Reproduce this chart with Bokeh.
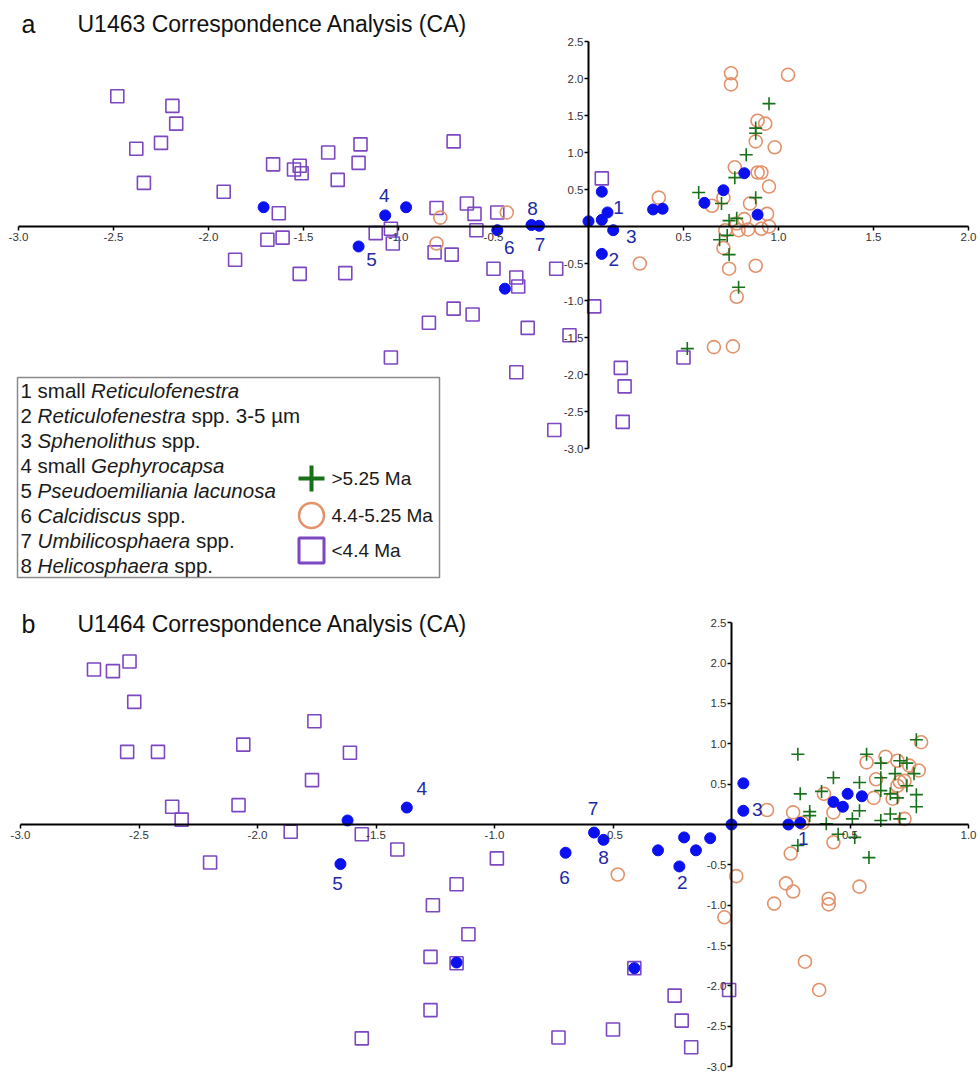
from bokeh.plotting import figure
from bokeh.models import (Range1d, LinearAxis, FixedTicker, PrintfTickFormatter,
                          ColumnDataSource)
from bokeh.layouts import column
from bokeh.core.properties import value
from bokeh.embed import file_html
from bokeh.resources import INLINE

# ---------------- data: panel a (U1463) ----------------
a_sq_x = [-2.48, -2.19, -2.17, -2.25, -2.38, -2.34, -1.92, -1.66, -1.55, -1.52, -1.51, -1.37,
          -1.63, -1.69, -1.61, -1.86, -1.52, -1.20, -1.21, -1.32, -0.71, -0.80, -0.64, -0.60,
          -0.48, -0.59, -1.12, -1.04, -1.03, -0.81, -0.72, -1.28, -0.50, -0.38, -0.37, -0.17,
          0.07, -0.71, -0.61, -0.84, -0.32, -0.10, 0.03, -1.04, -0.38, 0.17, 0.19, 0.18,
          -0.18, 0.50]
a_sq_y = [1.76, 1.63, 1.39, 1.13, 1.05, 0.59, 0.47, 0.84, 0.77, 0.82, 0.72, 1.00,
          0.18, -0.18, -0.15, -0.45, -0.64, 1.11, 0.86, 0.63, 1.15, 0.25, 0.31, 0.17,
          0.19, -0.05, -0.09, -0.03, -0.23, -0.35, -0.38, -0.63, -0.57, -0.69, -0.81, -0.57,
          0.65, -1.11, -1.19, -1.30, -1.37, -1.47, -1.08, -1.77, -1.97, -1.91, -2.16, -2.64,
          -2.75, -1.77]

a_ci_x = [-0.78, -0.80, -0.43, 0.27, 0.37, 0.75, 0.75, 1.05, 0.89, 0.93, 0.88, 0.98,
          0.77, 0.89, 0.91, 0.95, 0.71, 0.65, 0.85, 0.94, 0.82, 0.78, 0.84, 0.91,
          0.95, 0.72, 0.79, 0.71, 0.74, 0.88, 0.78, 0.66, 0.76]
a_ci_y = [0.12, -0.23, 0.19, -0.50, 0.39, 2.07, 1.92, 2.05, 1.43, 1.39, 1.15, 1.07,
          0.80, 0.73, 0.73, 0.54, 0.39, 0.28, 0.31, 0.17, 0.10, 0.04, -0.04, -0.03,
          0.00, -0.05, -0.05, -0.29, -0.57, -0.53, -0.95, -1.63, -1.62]

a_pl_x = [0.95, 0.88, 0.88, 0.83, 0.77, 0.58, 0.70, 0.88, 0.74, 0.78, 0.69, 0.73, 0.74, 0.79, 0.52]
a_pl_y = [1.66, 1.33, 1.26, 0.97, 0.66, 0.46, 0.31, 0.39, 0.08, 0.11, -0.18, -0.12, -0.38, -0.82, -1.65]

a_sp_x = [0.10, 0.07, 0.13, -1.07, -1.21, -0.48, -0.26, -0.30,
          -1.71, -0.96, 0.00, 0.07, 0.07, -0.44, 0.34, 0.39, 0.61, 0.71, 0.82, 0.89]
a_sp_y = [0.19, -0.37, -0.05, 0.15, -0.27, -0.05, 0.01, 0.02,
          0.26, 0.26, 0.07, 0.47, 0.09, -0.84, 0.23, 0.24, 0.32, 0.49, 0.72, 0.16]
a_sp_lab = ["1", "2", "3", "4", "5", "6", "7", "8"] + [""] * 12

# ---------------- data: panel b (U1464) ----------------
b_sq_x = [-2.69, -2.61, -2.54, -2.52, -2.55, -2.42, -2.06, -1.76, -1.77, -2.08, -2.36, -2.32,
          -1.86, -2.20, -1.61, -1.56, -1.41, -0.99, -1.16, -1.26, -1.11, -1.27, -1.16, -1.27,
          -1.56, -0.41, -0.24, -0.21, -0.17, -0.50, -0.73, -0.01]
b_sq_y = [1.92, 1.90, 2.02, 1.52, 0.90, 0.90, 0.99, 1.28, 0.55, 0.24, 0.22, 0.06,
          -0.09, -0.47, 0.89, -0.12, -0.31, -0.42, -0.74, -1.00, -1.36, -1.64, -1.72, -2.30,
          -2.65, -1.78, -2.12, -2.43, -2.76, -2.54, -2.64, -2.05]

b_ci_x = [-0.48, 0.02, -0.03, 0.18, 0.23, 0.26, 0.25, 0.43, 0.41, 0.41, 0.54, 0.31, 0.37,
          0.15, 0.26, 0.30, 0.39, 0.43, 0.57, 0.61, 0.65, 0.60, 0.70, 0.75, 0.71, 0.73,
          0.70, 0.79, 0.80, 0.73, 0.68]
b_ci_y = [-0.62, -0.64, -1.15, -0.98, -0.73, -0.83, -0.36, -0.22, -0.92, -0.99, -0.77, -1.70, -2.05,
          0.18, 0.15, 0.02, 0.38, 0.15, 0.77, 0.56, 0.84, 0.33, 0.79, 0.73, 0.53, 0.54,
          0.48, 0.67, 1.02, 0.07, 0.32]

b_pl_x = [0.28, 0.45, 0.52, 0.58, 0.28, 0.29, 0.33, 0.33, 0.38, 0.43, 0.40, 0.54, 0.51, 0.54,
          0.57, 0.63, 0.63, 0.63, 0.63, 0.67, 0.67, 0.69, 0.70, 0.71, 0.71, 0.74, 0.74, 0.77,
          0.78, 0.78, 0.78]
b_pl_y = [-0.26, -0.12, -0.16, -0.41, 0.87, 0.38, 0.16, 0.11, 0.41, 0.58, 0.01, 0.52, 0.07, 0.17,
          0.87, 0.76, 0.58, 0.05, 0.42, 0.38, 0.13, 0.63, 0.33, 0.07, 0.79, 0.76, 0.48, 0.63,
          0.37, 0.22, 1.05]

b_sp_x = [0.29, -0.22, 0.05, -1.37, -1.65, -0.70, -0.58, -0.54,
          -1.62, -1.16, -0.31, -0.20, -0.15, -0.09, -0.41, 0.00, 0.05, 0.24, 0.43, 0.47, 0.49, 0.55]
b_sp_y = [0.02, -0.52, 0.17, 0.21, -0.49, -0.35, -0.10, -0.19,
          0.05, -1.71, -0.32, -0.16, -0.32, -0.17, -1.78, 0.00, 0.51, 0.00, 0.28, 0.22, 0.38, 0.35]
b_sp_lab = ["1", "2", "3", "4", "5", "6", "7", "8"] + [""] * 14

x_ticks_a = [-3.0, -2.5, -2.0, -1.5, -1.0, -0.5, 0.5, 1.0, 1.5, 2.0]
x_ticks_b = [-3.0, -2.5, -2.0, -1.5, -1.0, -0.5, 0.5, 1.0]
y_ticks = [-3.0, -2.5, -2.0, -1.5, -1.0, -0.5, 0.5, 1.0, 1.5, 2.0, 2.5]

species = ["1 small |Reticulofenestra|",
           "2 |Reticulofenestra| spp. 3-5 µm",
           "3 |Sphenolithus| spp.",
           "4 small |Gephyrocapsa|",
           "5 |Pseudoemiliania lacunosa|",
           "6 |Calcidiscus| spp.",
           "7 |Umbilicosphaera| spp.",
           "8 |Helicosphaera| spp."]
age_labels = [">5.25 Ma", "4.4-5.25 Ma", "<4.4 Ma"]

# ---------------- styling / layout ----------------
FONT = "Liberation Sans"
PURPLE = "#7d47c2"
ORANGE = "#e3916a"
GREEN = "#17701a"
BLUE = "#0a10ee"
LABBLUE = "#1d2aa6"
W = 980
LEFT = 0

# label pixel offsets (screen px) for species numbers
a_off = [(11, -5), (12, 6), (18, 6), (-1, -20), (13, 13), (12, 17), (1, 19), (1, -17)] + [(0, 0)] * 12
b_off = [(3, 16), (3, 16), (14, -1), (15, -19), (-3, 19), (-1, 25), (-1, -24), (0, 18)] + [(0, 0)] * 14

# Arial / Liberation Sans advance widths (per 1000 em)
CW = {' ': 278, '(': 333, ')': 333, '-': 333, '.': 278, '<': 584, '>': 584, 'µ': 576}
for ch in "0123456789":
    CW[ch] = 556
CW.update({'A': 667, 'C': 722, 'G': 778, 'H': 722, 'M': 833, 'P': 667, 'R': 722, 'S': 667,
           'U': 722, 'a': 556, 'b': 556, 'c': 500, 'd': 556, 'e': 556, 'f': 278, 'g': 556,
           'h': 556, 'i': 222, 'k': 500, 'l': 222, 'm': 833, 'n': 556, 'o': 556, 'p': 556,
           'r': 333, 's': 500, 't': 278, 'u': 556, 'y': 500})


def twidth(s, size):
    return sum(CW.get(c, 556) for c in s) * size / 1000.0


def make_panel(top, height, x0, sx, y0, sy, xb, xticks):
    xr = Range1d((LEFT - x0) / sx, (LEFT + W - x0) / sx)
    yr = Range1d((y0 - (top + height)) / sy, (y0 - top) / sy)
    p = figure(width=W, height=height, x_range=xr, y_range=yr, output_backend="svg",
               toolbar_location=None, x_axis_location=None, y_axis_location=None,
               min_border=0, outline_line_color=None, background_fill_color="white")
    p.grid.visible = False
    xa = LinearAxis(fixed_location=0, bounds=xb, ticker=FixedTicker(ticks=xticks),
                    formatter=PrintfTickFormatter(format="%.1f"))
    ya = LinearAxis(fixed_location=0, bounds=(-3, 2.5), ticker=FixedTicker(ticks=y_ticks),
                    formatter=PrintfTickFormatter(format="%.1f"))
    for ax in (xa, ya):
        ax.axis_line_width = 2
        ax.axis_line_color = "black"
        ax.major_tick_line_color = "black"
        ax.major_tick_line_width = 1.5
        ax.major_tick_out = 4
        ax.major_tick_in = 0
        ax.minor_tick_line_color = None
        ax.major_label_text_font = FONT
        ax.major_label_text_font_size = "11.5px"
        ax.major_label_text_color = "#333333"
    xa.major_label_standoff = 2
    ya.major_label_standoff = 1
    p.add_layout(xa, "below")
    p.add_layout(ya, "left")
    return p


def px2x(px, x0, sx):
    return (px - x0) / sx


def px2y(py, y0, sy):
    return (y0 - py) / sy


def draw_points(p, sqx, sqy, cix, ciy, plx, ply, spx, spy, splab, offs):
    p.scatter(sqx, sqy, marker="square", size=13, fill_color=None,
              line_color=PURPLE, line_width=1.6)
    p.scatter(cix, ciy, marker="circle", size=13, fill_color=None,
              line_color=ORANGE, line_width=1.6)
    p.scatter(plx, ply, marker="cross", size=13, line_color=GREEN, line_width=1.6)
    p.scatter(spx, spy, marker="circle", size=11, fill_color=BLUE, line_color=BLUE)
    src = ColumnDataSource(dict(x=spx, y=spy, t=splab,
                                dx=[o[0] for o in offs], dy=[o[1] for o in offs]))
    p.text(x="x", y="y", text="t", x_offset="dx", y_offset="dy", source=src,
           text_font=value(FONT), text_font_size="19px", text_color=LABBLUE,
           text_align="center", text_baseline="middle")


def draw_title(p, letter, title, mid_py, y0, sy, x0, sx):
    p.text(x=[px2x(21, x0, sx)], y=[px2y(mid_py, y0, sy)], text=[letter],
           text_font=value(FONT), text_font_size="25px", text_color="#111111",
           text_baseline="middle")
    p.text(x=[px2x(77, x0, sx)], y=[px2y(mid_py, y0, sy)], text=[title],
           text_font=value(FONT), text_font_size="23px", text_color="#111111",
           text_baseline="middle")


# ---------------- panel a ----------------
AX0, ASX, AY0, ASY = 588, 190, 226, 74
pa = make_panel(0, 608, AX0, ASX, AY0, ASY, (-3, 2), x_ticks_a)
draw_points(pa, a_sq_x, a_sq_y, a_ci_x, a_ci_y, a_pl_x, a_pl_y, a_sp_x, a_sp_y, a_sp_lab, a_off)
draw_title(pa, "a", "U1463 Correspondence Analysis (CA)", 23, AY0, ASY, AX0, ASX)

# legend box
pa.quad(left=[px2x(17, AX0, ASX)], right=[px2x(439, AX0, ASX)],
        top=[px2y(377, AY0, ASY)], bottom=[px2y(577, AY0, ASY)],
        fill_color="white", line_color="#8a8a8a", line_width=1.5)
LFS = 20.5
for i, line in enumerate(species):
    parts = line.split("|")
    cx = 20.0
    cy = 390 + 25 * i
    for j, seg in enumerate(parts):
        stripped = seg.lstrip(" ")
        lead = twidth(seg[:len(seg) - len(stripped)], LFS)
        if stripped:
            pa.text(x=[px2x(cx + lead, AX0, ASX)], y=[px2y(cy, AY0, ASY)], text=[stripped],
                    text_font=value(FONT), text_font_size=f"{LFS}px",
                    text_font_style="italic" if j % 2 == 1 else "normal",
                    text_color="#1a1a1a", text_baseline="middle")
        cx += twidth(seg, LFS)

key_py = [478, 515, 550]
pa.scatter([px2x(311, AX0, ASX)], [px2y(key_py[0], AY0, ASY)], marker="cross", size=26,
           line_color=GREEN, line_width=4)
pa.scatter([px2x(311, AX0, ASX)], [px2y(key_py[1], AY0, ASY)], marker="circle", size=25,
           fill_color=None, line_color=ORANGE, line_width=2.5)
pa.scatter([px2x(311, AX0, ASX)], [px2y(key_py[2], AY0, ASY)], marker="square", size=25,
           fill_color=None, line_color=PURPLE, line_width=3)
for lab, py in zip(age_labels, key_py):
    pa.text(x=[px2x(331, AX0, ASX)], y=[px2y(py, AY0, ASY)], text=[lab],
            text_font=value(FONT), text_font_size="19px", text_color="#1a1a1a",
            text_baseline="middle")

# ---------------- panel b ----------------
BX0, BSX, BY0, BSY = 731, 237, 824, 80.7
pb = make_panel(608, 464, BX0, BSX, BY0, BSY, (-3, 1), x_ticks_b)
draw_points(pb, b_sq_x, b_sq_y, b_ci_x, b_ci_y, b_pl_x, b_pl_y, b_sp_x, b_sp_y, b_sp_lab, b_off)
draw_title(pb, "b", "U1464 Correspondence Analysis (CA)", 623, BY0, BSY, BX0, BSX)

layout = column(pa, pb, spacing=0)
open("out.html", "w").write(file_html(layout, INLINE))
